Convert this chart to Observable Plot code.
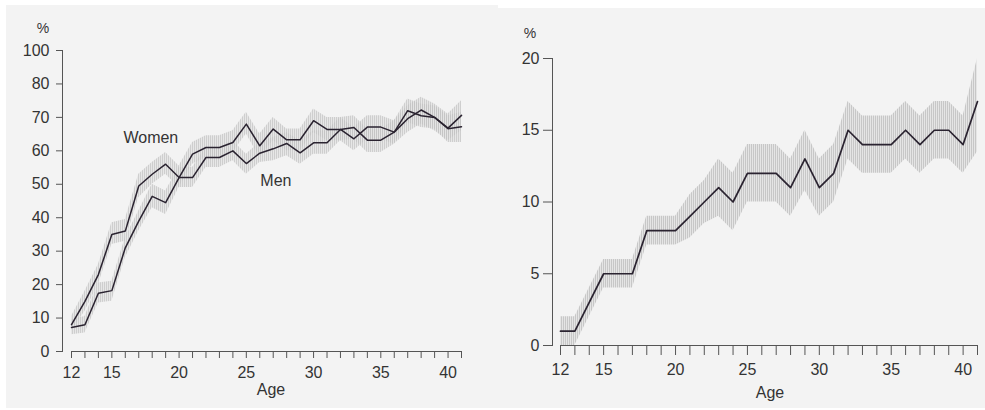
<!DOCTYPE html>
<html>
<head>
<meta charset="utf-8">
<script src="https://cdn.jsdelivr.net/npm/d3@7"></script>
<script src="https://cdn.jsdelivr.net/npm/@observablehq/plot@0.6"></script>
<style>
  html, body { margin: 0; padding: 0; background: #ffffff; }
  body { width: 985px; height: 410px; position: relative; overflow: hidden;
         font-family: "Liberation Sans", Arial, Helvetica, sans-serif; color: #333; }
  .bg { position: absolute; background: #f3f3f3; }
  .chart { position: absolute; top: 0; }
  .lbl { position: absolute; font-size: 16px; line-height: 16px; color: #333; white-space: nowrap; transform: translate(-50%, -50%); }
  .pct { font-size: 14px; line-height: 14px; }
</style>
</head>
<body>
<div class="bg" style="left:6px;top:5px;width:492px;height:403px"></div>
<div class="bg" style="left:498px;top:8px;width:487px;height:400px"></div>
<div id="left" class="chart" style="left:0"></div>
<div id="right" class="chart" style="left:495px"></div>
<div class="lbl pct" style="left:43px;top:28px">%</div>
<div class="lbl" style="left:271px;top:390px">Age</div>
<div class="lbl pct" style="left:530px;top:33px">%</div>
<div class="lbl" style="left:770px;top:393px">Age</div>
<script>
// ---- data ----
const ages = [12,13,14,15,16,17,18,19,20,21,22,23,24,25,26,27,28,29,30,31,32,33,34,35,36,37,38,39,40,41];
const xTickLabels = [12, 15, 20, 25, 30, 35, 40];

// Left chart: women / men (%)
const women   = [8, 15, 23, 35, 36, 49.5, 53, 56, 52, 59, 61, 61, 62.5, 68, 61.5, 66.5, 63.3, 63.3, 69, 66.4, 66.4, 67, 63.2, 63.2, 65.6, 72, 70.5, 70, 66.6, 67.2];
const womenLo = [6, 12, 20, 32, 33, 46, 50, 53, 49, 56, 58, 58, 59.5, 65, 58, 63, 60, 60, 65.5, 63, 63, 63.5, 59.5, 59.5, 62, 68.5, 67, 66.5, 62.5, 62.5];
const womenHi = [10.5, 18, 26, 38.5, 39.5, 53, 56.5, 59.5, 55.5, 62.5, 64.5, 64.5, 66, 71.5, 65, 70, 66.5, 66.5, 72.5, 70, 70, 70.5, 66.5, 66.5, 69, 75.5, 74, 73.5, 70.5, 71.5];
const men     = [7.2, 8, 17.4, 18.2, 31, 39, 46.4, 44.5, 52, 52, 58, 58, 60, 56.2, 59.3, 60.6, 62.2, 59.4, 62.4, 62.4, 66.4, 63.6, 67.1, 67.1, 65.6, 69.6, 72.2, 70, 66.8, 70.6];
const menLo   = [5, 5.5, 14.5, 15, 28, 36, 43, 41, 49, 49, 55, 55, 57, 53, 56.5, 57, 58.5, 56, 59, 59, 63, 60, 63.5, 63.5, 62, 65.5, 68, 66, 63, 66];
const menHi   = [9.5, 10.5, 20.5, 21, 34, 42, 50, 48, 55, 55, 61, 61, 63, 59, 62.5, 64, 65.5, 63, 66, 66, 70, 67, 70.5, 70.5, 69, 73.5, 76, 74, 71, 75];
const leftYTicks  = [0, 10, 20, 30, 40, 50, 60, 70, 80, 90];
const leftYLabels = ["0", "10", "20", "30", "40", "50", "60", "70", "80", "100"];
const leftNotes = [
  {label: "Women", age: 17.9, value: 64},
  {label: "Men",   age: 27.2, value: 51}
];

// Right chart (%)
const rate   = [1, 1, 3, 5, 5, 5, 8, 8, 8, 9, 10, 11, 10, 12, 12, 12, 11, 13, 11, 12, 15, 14, 14, 14, 15, 14, 15, 15, 14, 17];
const rateLo = [0, 0, 2, 4, 4, 4, 7, 7, 7, 7.5, 8.5, 9, 8, 10, 10, 10, 9, 10.8, 9, 10, 13, 12, 12, 12, 13, 12, 13, 13, 12, 13.5];
const rateHi = [2, 2, 4, 6, 6, 6, 9, 9, 9, 10.5, 11.5, 13, 12, 14, 14, 14, 13, 15, 13, 14, 17, 16, 16, 16, 17, 16, 17, 17, 16, 20];
const rightYTicks = [0, 5, 10, 15, 20];

// ---- tables ----
const leftRows = [
  ...ages.map((a, i) => ({sex: "Women", age: a, value: women[i], lo: womenLo[i], hi: womenHi[i]})),
  ...ages.map((a, i) => ({sex: "Men",   age: a, value: men[i],   lo: menLo[i],   hi: menHi[i]}))
];
const rightRows = ages.map((a, i) => ({age: a, value: rate[i], lo: rateLo[i], hi: rateHi[i]}));

const lineColor = "#2a2330";
const font = "'Liberation Sans', Arial, Helvetica, sans-serif";
const xFmt = d => xTickLabels.includes(d) ? String(d) : "";

function addHatch(svg, id) {
  const ns = "http://www.w3.org/2000/svg";
  const defs = document.createElementNS(ns, "defs");
  defs.innerHTML =
    `<pattern id="${id}" width="2" height="2" patternUnits="userSpaceOnUse">` +
    `<rect width="2" height="2" fill="#e3e3e3"/>` +
    `<rect width="1" height="2" fill="#c2c2c2"/>` +
    `</pattern>`;
  svg.insertBefore(defs, svg.firstChild);
}

const left = Plot.plot({
  width: 495, height: 410,
  marginLeft: 62, marginRight: 34, marginTop: 50, marginBottom: 59,
  insetLeft: 9,
  x: {domain: [12, 41]},
  y: {domain: [0, 90]},
  style: {background: "transparent", fontFamily: font, fontSize: "16px", color: "#333", overflow: "visible"},
  marks: [
    Plot.areaY(leftRows, {x: "age", y1: "lo", y2: "hi", z: "sex", fill: "url(#hatchL)", fillOpacity: 0.75}),
    Plot.lineY(leftRows, {x: "age", y: "value", z: "sex", stroke: lineColor, strokeWidth: 1.5}),
    Plot.ruleY([0], {x1: 12, x2: 41, stroke: "#555", strokeWidth: 1}),
    Plot.frame({anchor: "left", stroke: "#555"}),
    Plot.axisX({ticks: ages, tickSize: 7, tickPadding: 8, tickFormat: xFmt, label: null, stroke: "#555"}),
    Plot.axisY({ticks: leftYTicks, tickSize: 6, tickPadding: 7, tickFormat: (d, i) => leftYLabels[i], label: null, stroke: "#555"}),
    Plot.text(leftNotes, {x: "age", y: "value", text: "label", fontSize: 16, fill: "#333"})
  ]
});
addHatch(left, "hatchL");
document.getElementById("left").appendChild(left);

const right = Plot.plot({
  width: 490, height: 410,
  marginLeft: 57, marginRight: 8, marginTop: 58, marginBottom: 65,
  insetLeft: 8,
  x: {domain: [12, 41]},
  y: {domain: [0, 20]},
  style: {background: "transparent", fontFamily: font, fontSize: "16px", color: "#333", overflow: "visible"},
  marks: [
    Plot.areaY(rightRows, {x: "age", y1: "lo", y2: "hi", fill: "url(#hatchR)", fillOpacity: 0.9}),
    Plot.lineY(rightRows, {x: "age", y: "value", stroke: lineColor, strokeWidth: 1.7}),
    Plot.ruleY([0], {x1: 12, x2: 41, stroke: "#555", strokeWidth: 1}),
    Plot.frame({anchor: "left", stroke: "#555"}),
    Plot.axisX({ticks: ages, tickSize: 10, tickPadding: 8, tickFormat: xFmt, label: null, stroke: "#555"}),
    Plot.axisY({ticks: rightYTicks, tickSize: 9, tickPadding: 4, label: null, stroke: "#555"})
  ]
});
addHatch(right, "hatchR");
document.getElementById("right").appendChild(right);
</script>
</body>
</html>
